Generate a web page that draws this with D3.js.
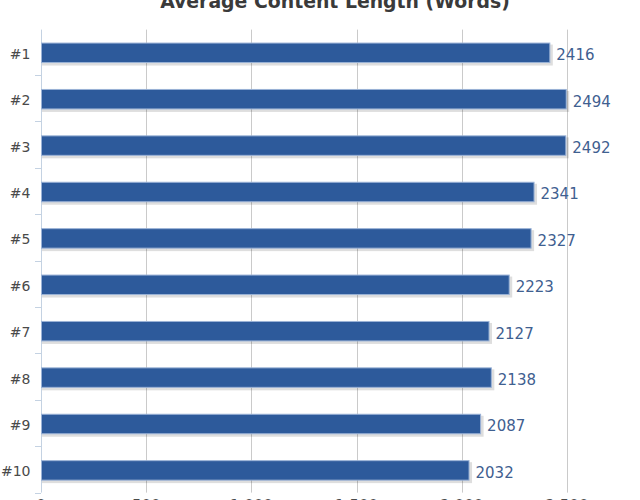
<!DOCTYPE html>
<html><head><meta charset="utf-8">
<script src="https://cdn.jsdelivr.net/npm/d3@7"></script>
<style>body{margin:0;background:#fff;}svg{display:block;font-family:"DejaVu Sans",Arial,sans-serif;}</style>
</head><body><svg id="c" width="640" height="500"></svg>
<script>
const categories = ["#1","#2","#3","#4","#5","#6","#7","#8","#9","#10"];
const values = [2416,2494,2492,2341,2327,2223,2127,2138,2087,2032];
const xTicks = [0,500,1000,1500,2000,2500];
const title = "Average Content Length (Words)";

const svg = d3.select("#c");
const x = d3.scaleLinear().domain([0,2500]).range([41, 567]);
const y = d3.scaleBand().domain(categories).range([29.6, 493.6]).paddingInner(0.58).paddingOuter(0.29);
const plotTop = y.range()[0], plotBot = y.range()[1];

// grid
svg.append("g").selectAll("line").data(xTicks.slice(1)).join("line")
  .attr("x1",d=>Math.round(x(d))+0.5).attr("x2",d=>Math.round(x(d))+0.5).attr("y1",plotTop).attr("y2",plotBot-1)
  .attr("stroke","#cacaca").attr("stroke-width",1);

// y axis
svg.append("line").attr("x1",41.5).attr("x2",41.5).attr("y1",plotTop).attr("y2",plotBot-1)
  .attr("stroke","#c4d2e2");
const bounds = categories.map(c=>y(c)+y.bandwidth()/2+y.step()/2);
svg.append("g").selectAll("line").data(bounds).join("line")
  .attr("x1",35).attr("x2",41).attr("y1",d=>Math.round(d)-0.5).attr("y2",d=>Math.round(d)-0.5)
  .attr("stroke","#c4d2e2");

// shadows
svg.append("g").selectAll("rect").data(values).join("rect")
  .attr("x",x(0)+1).attr("y",(d,i)=>y(categories[i])+1.5)
  .attr("width",d=>x(d)-x(0)+2.5).attr("height",y.bandwidth()+1.5)
  .attr("fill","#000").attr("opacity",0.13);
// bars
svg.append("g").selectAll("rect").data(values).join("rect")
  .attr("x",x(0)+0.5).attr("y",(d,i)=>y(categories[i]))
  .attr("width",d=>x(d)-x(0)).attr("height",y.bandwidth())
  .attr("fill","#2d5a9b").attr("stroke","#9ab2d6").attr("stroke-width",1);

// category labels
svg.append("g").selectAll("text").data(categories).join("text")
  .attr("x",30.5).attr("y",d=>y(d)+y.bandwidth()/2+1).attr("dy","0.36em")
  .attr("text-anchor","end").attr("fill","#4a4a4a").attr("font-size",14).text(d=>d);

// value labels
svg.append("g").selectAll("text").data(values).join("text")
  .attr("x",d=>x(d)+7).attr("y",(d,i)=>y(categories[i])+y.bandwidth()/2+2).attr("dy","0.36em")
  .attr("fill","#3f6090").attr("font-size",15).text(d=>d);

// x tick labels (cut by bottom edge as in the reference)
svg.append("g").selectAll("text").data(xTicks).join("text")
  .attr("x",d=>x(d)).attr("y",510.5).attr("text-anchor","middle")
  .attr("fill","#4a4a4a").attr("font-size",15).text(d=>d3.format(",")(d));

// title
const t = svg.append("text").attr("x",335).attr("y",8).attr("text-anchor","middle")
  .attr("fill","#3a3a3a").attr("font-size",18).attr("font-weight","bold").text(title);
const len = t.node().getComputedTextLength();
t.attr("font-size", 18*350/len);
</script></body></html>
